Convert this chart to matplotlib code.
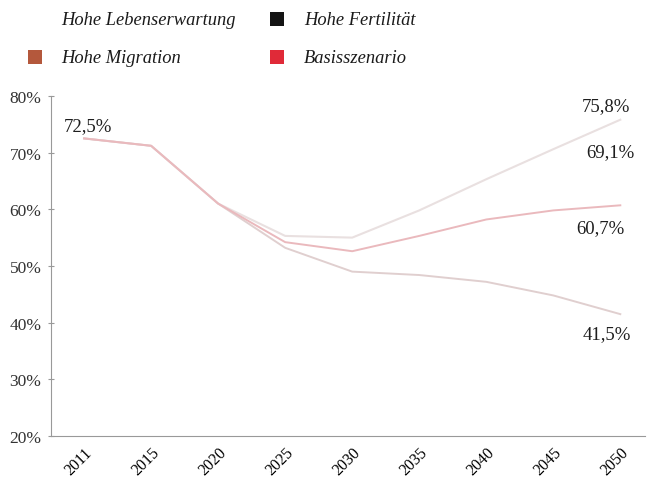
import matplotlib.pyplot as plt
from matplotlib.patches import Rectangle
from matplotlib.transforms import ScaledTranslation

# Jahre (kategoriale Achse) und Szenarien in %
jahre = ["2011", "2015", "2020", "2025", "2030", "2035", "2040", "2045", "2050"]
lebenserwartung = [72.5, 71.2, 61.0, 55.3, 55.0, 59.8, 65.3, 70.6, 75.8]
basis = [72.5, 71.2, 61.0, 54.2, 52.6, 55.3, 58.2, 59.8, 60.7]
migration = [72.5, 71.2, 61.0, 53.2, 49.0, 48.4, 47.2, 44.8, 41.5]

endwerte = ["75,8%", "69,1%", "60,7%", "41,5%"]
startwert = "72,5%"

legende = [("Hohe Lebenserwartung", "none"), ("Hohe Fertilität", "#141414"),
           ("Hohe Migration", "#b4583c"), ("Basisszenario", "#e02a38")]

plt.rcParams["font.family"] = ["Liberation Serif", "DejaVu Serif"]

fig = plt.figure(figsize=(6.49, 4.81), dpi=100)
ax = fig.add_axes([0.079, 0.0915, 0.915, 0.707])

x = list(range(len(jahre)))
ax.plot(x, lebenserwartung, color="#e9e0e0", lw=1.5)
ax.plot(x, migration, color="#e0cfcf", lw=1.4)
ax.plot(x, basis, color="#eab9bd", lw=1.4)

ax.set_ylim(20, 80)
ax.set_xlim(-0.49, 8.37)
ax.set_yticks(range(20, 81, 10))
ax.set_yticklabels([f"{v}%" for v in range(20, 81, 10)], fontsize=12.5, color="#333333")
ax.set_xticks(x)
ax.set_xticklabels(jahre, rotation=45, ha="right", rotation_mode="anchor", fontsize=11.5)
off = ScaledTranslation(-20 / 72, 0, fig.dpi_scale_trans)
for lab in ax.get_xticklabels():
    lab.set_transform(lab.get_transform() + off)
ax.tick_params(axis="x", length=0, pad=6)
ax.tick_params(axis="y", length=4, direction="inout", color="#999999", pad=5)

for s in ["top", "right"]:
    ax.spines[s].set_visible(False)
ax.spines["left"].set_color("#999999")
ax.spines["bottom"].set_color("#999999")

# Beschriftungen der Werte
kw = dict(fontsize=13.5, ha="center", va="center", color="#1e1e1e")
ax.text(0.06, 74.8, startwert, **kw)
ax.text(7.78, 78.3, endwerte[0], **kw)
ax.text(7.85, 70.1, endwerte[1], **kw)
ax.text(7.7, 56.8, endwerte[2], **kw)
ax.text(7.8, 38.0, endwerte[3], **kw)

# Legende von Hand
pos = [(0.043, 0.958), (0.416, 0.958), (0.043, 0.879), (0.416, 0.879)]
for (name, farbe), (lx, ly) in zip(legende, pos):
    if farbe != "none":
        fig.add_artist(Rectangle((lx, ly - 0.014), 0.021, 0.028, transform=fig.transFigure,
                                 facecolor=farbe, edgecolor="none"))
    fig.text(lx + 0.052, ly, name, fontsize=13.3, style="italic", va="center", color="#1a1a1a")

fig.savefig("out.png", dpi=100)
